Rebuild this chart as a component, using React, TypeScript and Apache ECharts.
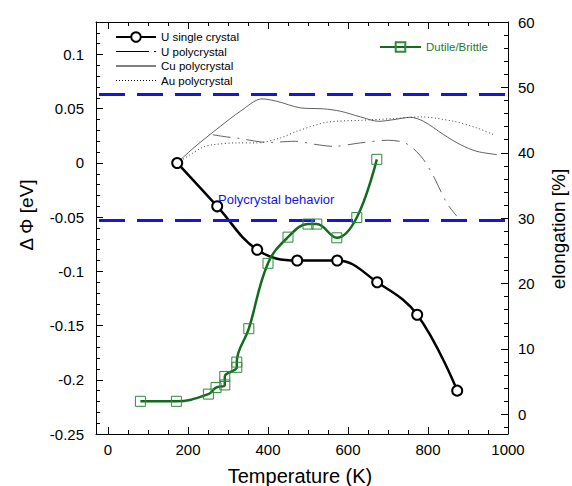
import React, { useEffect, useRef } from 'react';
import * as echarts from 'echarts';

// U single crystal (left axis, ΔΦ in eV)
const uSingleT = [173, 273, 373, 473, 573, 673, 773, 873];
const uSinglePhi = [0, -0.04, -0.08, -0.09, -0.09, -0.11, -0.14, -0.21];

// U polycrystal (left axis)
const uPolyT = [262, 297, 322, 381, 406, 468, 520, 564, 631, 701, 739, 764, 789, 814, 847, 872];
const uPolyPhi = [0.026, 0.024, 0.023, 0.0194, 0.019, 0.02, 0.017, 0.0153, 0.0185, 0.0209, 0.019, 0.013, 0.003, -0.0124, -0.037, -0.049];

// Cu polycrystal (left axis)
const cuPolyT = [173, 214, 281, 331, 385, 422, 481, 539, 581, 631, 677, 715, 756, 789, 839, 881, 922, 972];
const cuPolyPhi = [0, 0.0139, 0.0338, 0.0477, 0.0591, 0.0569, 0.0508, 0.0499, 0.0477, 0.0425, 0.0384, 0.04, 0.0421, 0.0384, 0.0261, 0.0169, 0.0107, 0.0077];

// Au polycrystal (left axis)
const auPolyT = [173, 206, 239, 264, 322, 372, 431, 472, 547, 631, 714, 781, 864, 922, 964];
const auPolyPhi = [0, 0.0077, 0.0148, 0.0169, 0.0185, 0.0185, 0.0231, 0.0292, 0.0375, 0.0393, 0.0409, 0.0425, 0.0384, 0.0323, 0.0261];

// Dutile/Brittle (right axis, elongation %)
const dbT = [81, 171, 251, 270, 292, 292, 322, 322, 352, 400, 450, 500, 522, 572, 622, 672];
const dbElong = [2.0, 2.0, 3.1, 4.1, 4.5, 5.8, 7.2, 8.0, 13.1, 23.1, 27.1, 29.1, 29.1, 27.0, 30.1, 39.0];

// Polycrystal behaviour band (ΔΦ, eV)
const polyBand = [0.063, -0.053];

const seriesNames = ['U single crystal', 'U polycrystal', 'Cu polycrystal', 'Au polycrystal'];
const dbName = 'Dutile/Brittle';

const zip = (xs: number[], ys: number[]) => xs.map((x, i) => [x, ys[i]]);

export default function App() {
  const ref = useRef<HTMLDivElement>(null);
  useEffect(() => {
    const chart = echarts.init(ref.current!, null, { renderer: 'svg' });
    const font = '"Liberation Sans", Arial, Helvetica, sans-serif';
    const isMult = (v: number, s: number) => Math.abs(v / s - Math.round(v / s)) < 1e-6;
    const fmtX = (v: number) => (isMult(v, 200) ? String(v) : '');
    const fmtL = (v: number) => (isMult(v, 0.05) ? String(parseFloat(v.toFixed(2))) : '');
    const fmtR = (v: number) => (isMult(v, 10) ? String(Math.round(v)) : '');
    const black = '#000';
    const green = '#136b1d';
    const blue = '#1414e6';
    const gray = '#3a3a3a';
    const clear = 'rgba(0,0,0,0)';

    const axisLine = { show: true, onZero: false, lineStyle: { color: black, width: 1 } };
    const axisTick = { show: true, inside: true, length: 7, lineStyle: { color: black, width: 1 } };
    const minor = (n: number) => ({ show: true, splitNumber: n, length: 4, lineStyle: { color: black, width: 1 } });
    const label = (f: any, margin: number) => ({
      formatter: f, color: black, fontSize: 15, fontFamily: font, margin,
    });

    chart.setOption({
      animation: false,
      backgroundColor: '#fff',
      grid: { left: 96, right: 64, top: 22, bottom: 52, containLabel: false, outerBoundsMode: 'none' },
      xAxis: [
        {
          type: 'value', position: 'bottom', min: -30, max: 1000, splitNumber: 5,
          axisLine, axisTick, minorTick: minor(4), splitLine: { show: false },
          axisLabel: label(fmtX, 8),
        },
        {
          type: 'value', position: 'top', min: -30, max: 1000, splitNumber: 5,
          axisLine, axisTick, minorTick: minor(4), splitLine: { show: false },
          axisLabel: { show: false },
        },
      ],
      yAxis: [
        {
          type: 'value', position: 'left', min: -0.25, max: 0.13, interval: 0.05,
          axisLine, axisTick, minorTick: minor(5), splitLine: { show: false },
          axisLabel: label(fmtL, 12),
        },
        {
          type: 'value', position: 'right', min: -3, max: 60, splitNumber: 6,
          axisLine, axisTick, minorTick: minor(5), splitLine: { show: false },
          axisLabel: label(fmtR, 10),
        },
      ],
      legend: [
        {
          data: [
            { name: seriesNames[0] },
            { name: seriesNames[1], lineStyle: { color: black, width: 1, type: [33, 5, 2, 10] } },
            { name: seriesNames[2], lineStyle: { color: black, width: 1, type: 'solid' } },
            { name: seriesNames[3], lineStyle: { color: black, width: 1, type: [1, 2] } },
          ],
          orient: 'vertical', left: 115, top: 31,
          itemWidth: 40, itemHeight: 12, itemGap: 2.5, padding: 0,
          textStyle: { fontFamily: font, fontSize: 11.5, color: black, lineHeight: 12 },
          selectedMode: false,
        },
        {
          data: [dbName], orient: 'vertical', left: 379, top: 41,
          itemWidth: 41, itemHeight: 12, padding: 0,
          textStyle: { fontFamily: font, fontSize: 11.5, color: '#1f7a2b', lineHeight: 12 },
          selectedMode: false,
        },
      ],
      series: [
        {
          name: seriesNames[1], type: 'line', data: zip(uPolyT, uPolyPhi), smooth: 0.3,
          symbol: 'none', lineStyle: { color: gray, width: 0.8, type: [18, 7, 2, 7] },
          itemStyle: { color: clear, borderColor: clear }, z: 2,
        },
        {
          name: seriesNames[2], type: 'line', data: zip(cuPolyT, cuPolyPhi), smooth: 0.3,
          symbol: 'none', lineStyle: { color: gray, width: 0.8, type: 'solid' },
          itemStyle: { color: clear, borderColor: clear }, z: 2,
        },
        {
          name: seriesNames[3], type: 'line', data: zip(auPolyT, auPolyPhi), smooth: 0.3,
          symbol: 'none', lineStyle: { color: gray, width: 1, type: [1, 2.5] },
          itemStyle: { color: clear, borderColor: clear }, z: 2,
        },
        {
          name: seriesNames[0], type: 'line', data: zip(uSingleT, uSinglePhi), smooth: 0.4,
          symbol: 'emptyCircle', symbolSize: 10,
          lineStyle: { color: black, width: 2.5 },
          itemStyle: { color: black, borderColor: black, borderWidth: 1 },
          z: 4,
          markLine: {
            silent: true, symbol: ['none', 'none'], label: { show: false }, precision: 4,
            lineStyle: { color: blue, width: 3, type: [26, 12], dashOffset: -3 },
            data: polyBand.map((v) => ({ yAxis: v })),
          },
        },
        {
          name: dbName, type: 'line', yAxisIndex: 1, data: zip(dbT, dbElong), smooth: 0.4,
          symbol: 'rect', symbolSize: 10,
          lineStyle: { color: green, width: 2.5 },
          itemStyle: { color: clear, borderColor: '#2f8a3b', borderWidth: 1 },
          z: 5,
        },
      ],
      graphic: [
        {
          type: 'text', x: 218, y: 199,
          style: { text: 'Polycrystal behavior', fill: blue, fontSize: 13, fontFamily: font, align: 'left', verticalAlign: 'middle' },
        },
        {
          type: 'text', x: 300, y: 476,
          style: { text: 'Temperature (K)', fill: black, fontSize: 20, fontFamily: font, align: 'center', verticalAlign: 'middle' },
        },
        {
          type: 'text', x: 26, y: 215, rotation: Math.PI / 2,
          style: { text: 'Δ Φ [eV]', fill: black, fontSize: 19, fontFamily: font, align: 'center', verticalAlign: 'middle' },
        },
        {
          type: 'text', x: 558, y: 229, rotation: Math.PI / 2,
          style: { text: 'elongation [%]', fill: black, fontSize: 19, fontFamily: font, align: 'center', verticalAlign: 'middle' },
        },
      ],
    });
    return () => chart.dispose();
  }, []);
  return <div ref={ref} style={{ position: 'fixed', left: 0, top: 0, width: 572, height: 486, background: '#fff' }} />;
}
